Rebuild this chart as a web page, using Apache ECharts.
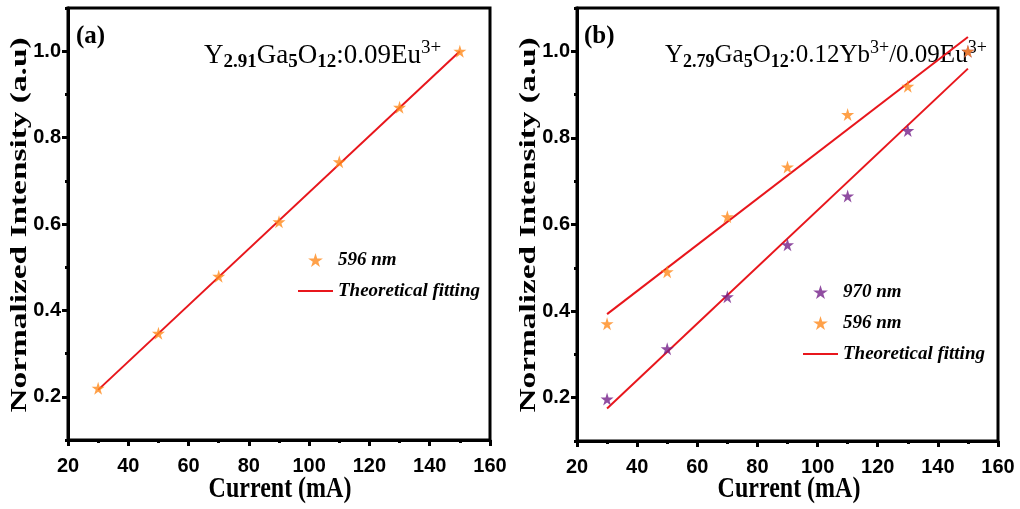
<!DOCTYPE html>
<html>
<head>
<meta charset="utf-8">
<script src="https://cdn.jsdelivr.net/npm/echarts@6/dist/echarts.min.js"></script>
<style>
  html, body { margin: 0; padding: 0; background: #fff; }
  #main { width: 1020px; height: 509px; }
</style>
</head>
<body>
<div id="main"></div>
<script>
// data
var current = [30, 50, 70, 90, 110, 130, 150];
var a596 = [0.22, 0.347, 0.479, 0.605, 0.744, 0.87, 1.0];
var b596 = [0.371, 0.491, 0.618, 0.733, 0.854, 0.919, 1.0];
var b970 = [0.197, 0.313, 0.433, 0.553, 0.666, 0.817, 1.0];
// fitted lines: end points at 30 and 150 mA
var fitX = [30, 150];
var aFit = [0.216, 1.0];
var b596Fit = [0.393, 1.033];
var b970Fit = [0.175, 0.96];
// tick labels
var xTickLabels = [20, 40, 60, 80, 100, 120, 140, 160];
var yTickLabels = [0.2, 0.4, 0.6, 0.8, 1.0];

var star = 'path://M50,0 L61,35 L98,35 L68,57 L79,91 L50,70 L21,91 L32,57 L2,35 L39,35 Z';
var lineIcon = 'path://M0,0 H35 V2 H0 Z';
var orange = '#ff8a1c';
var purple = '#74208a';
var red = '#e8161c';
var serif = "'Liberation Serif', 'Times New Roman', serif";
var sans = "'Liberation Sans', Arial, sans-serif";

function pairs(xs, ys) {
    return xs.map(function (x, i) { return [x, ys[i]]; });
}

function xAxis(idx) {
    return {
        gridIndex: idx, type: 'value', min: 20, max: 160, interval: 20,
        axisLine: { lineStyle: { color: '#000', width: 3 } },
        axisTick: { show: true, length: 6, lineStyle: { color: '#000', width: 3 } },
        minorTick: { show: true, splitNumber: 2, length: 3, lineStyle: { color: '#000', width: 3 } },
        axisLabel: {
            customValues: xTickLabels, margin: 16,
            color: '#000', fontFamily: sans, fontWeight: 'bold', fontSize: 20
        },
        splitLine: { show: false }
    };
}

// ticks from min 0.1 land on odd tenths (short), the minor ticks fall on the labelled even tenths (long)
function yAxis(idx) {
    return {
        gridIndex: idx, type: 'value', min: 0.1, max: 1.1, interval: 0.2,
        axisLine: { show: true, lineStyle: { color: '#000', width: 3 } },
        axisTick: { show: true, length: 3, lineStyle: { color: '#000', width: 3 } },
        minorTick: { show: true, splitNumber: 2, length: 6, lineStyle: { color: '#000', width: 3 } },
        axisLabel: {
            customValues: yTickLabels, margin: 7,
            color: '#000', fontFamily: sans, fontWeight: 'bold', fontSize: 20,
            formatter: function (v) { return v.toFixed(1); }
        },
        splitLine: { show: false }
    };
}

function legend(left, top, names) {
    return {
        left: left, top: top, orient: 'vertical', padding: 0,
        itemWidth: 35, itemHeight: 14, itemGap: 11,
        textStyle: { fontFamily: serif, fontStyle: 'italic', fontWeight: 'bold', fontSize: 19, color: '#000', lineHeight: 20 },
        data: names.map(function (n) {
            return { name: n, icon: n === 'Theoretical fitting' ? lineIcon : star };
        })
    };
}

function fitSeries(x, y, ys) {
    return {
        name: 'Theoretical fitting', type: 'line', xAxisIndex: x, yAxisIndex: y,
        data: pairs(fitX, ys), showSymbol: false, silent: true,
        itemStyle: { color: red }, lineStyle: { color: red, width: 2 }, z: 3
    };
}

function starSeries(name, idx, ys, color, z) {
    return {
        name: name, type: 'scatter', xAxisIndex: idx, yAxisIndex: idx,
        data: pairs(current, ys), symbol: star, symbolSize: 13,
        itemStyle: { color: color }, z: z
    };
}

function formula(left, size, text) {
    var sub = Math.round(size * 0.72);
    return {
        type: 'text', left: left, top: 39,
        style: {
            text: text,
            rich: {
                b: { fontFamily: serif, fontSize: size, fill: '#000', lineHeight: 30 },
                s: { fontFamily: serif, fontSize: sub, fontWeight: 'bold', fill: '#000', padding: [14, 0, 0, 0] },
                p: { fontFamily: serif, fontSize: sub, fill: '#000', padding: [0, 0, 14, 0] }
            }
        }
    };
}

var option = {
    backgroundColor: '#fff',
    animation: false,
    grid: [
        { left: 68, top: 8, width: 422, height: 432, show: true, borderColor: '#000', borderWidth: 3 },
        { left: 577, top: 8, width: 421, height: 433, show: true, borderColor: '#000', borderWidth: 3 }
    ],
    xAxis: [xAxis(0), xAxis(1)],
    yAxis: [yAxis(0), yAxis(1)],
    legend: [
        legend(298, 250, ['596 nm', 'Theoretical fitting']),
        legend(803, 282, ['970 nm', '596 nm', 'Theoretical fitting'])
    ],
    graphic: [
        { type: 'text', left: 76, top: 24, style: { text: '(a)', font: 'bold 25px ' + serif, fill: '#000' } },
        { type: 'text', left: 584, top: 24, style: { text: '(b)', font: 'bold 25px ' + serif, fill: '#000' } },
        formula(204, 27, '{b|Y}{s|2.91}{b|Ga}{s|5}{b|O}{s|12}{b|:0.09Eu}{p|3+}'),
        formula(665, 25, '{b|Y}{s|2.79}{b|Ga}{s|5}{b|O}{s|12}{b|:0.12Yb}{p|3+}{b|/0.09Eu}{p|3+}'),
        { type: 'text', x: 280, y: 489, scaleY: 1.25,
          style: { text: 'Current (mA)', font: 'bold 24px ' + serif, fill: '#000', align: 'center', verticalAlign: 'middle' } },
        { type: 'text', x: 789, y: 489, scaleY: 1.25,
          style: { text: 'Current (mA)', font: 'bold 24px ' + serif, fill: '#000', align: 'center', verticalAlign: 'middle' } },
        { type: 'text', x: 20, y: 225, rotation: Math.PI / 2, scaleX: 1.45,
          style: { text: 'Normalized Intensity (a.u)', font: 'bold 23px ' + serif, fill: '#000', align: 'center', verticalAlign: 'middle' } },
        { type: 'text', x: 529, y: 225, rotation: Math.PI / 2, scaleX: 1.45,
          style: { text: 'Normalized Intensity (a.u)', font: 'bold 23px ' + serif, fill: '#000', align: 'center', verticalAlign: 'middle' } }
    ],
    series: [
        fitSeries(0, 0, aFit),
        starSeries('596 nm', 0, a596, orange, 4),
        fitSeries(1, 1, b596Fit),
        fitSeries(1, 1, b970Fit),
        starSeries('970 nm', 1, b970, purple, 4),
        starSeries('596 nm', 1, b596, orange, 5)
    ]
};

var chart = echarts.init(document.getElementById('main'));
chart.setOption(option);
</script>
</body>
</html>
